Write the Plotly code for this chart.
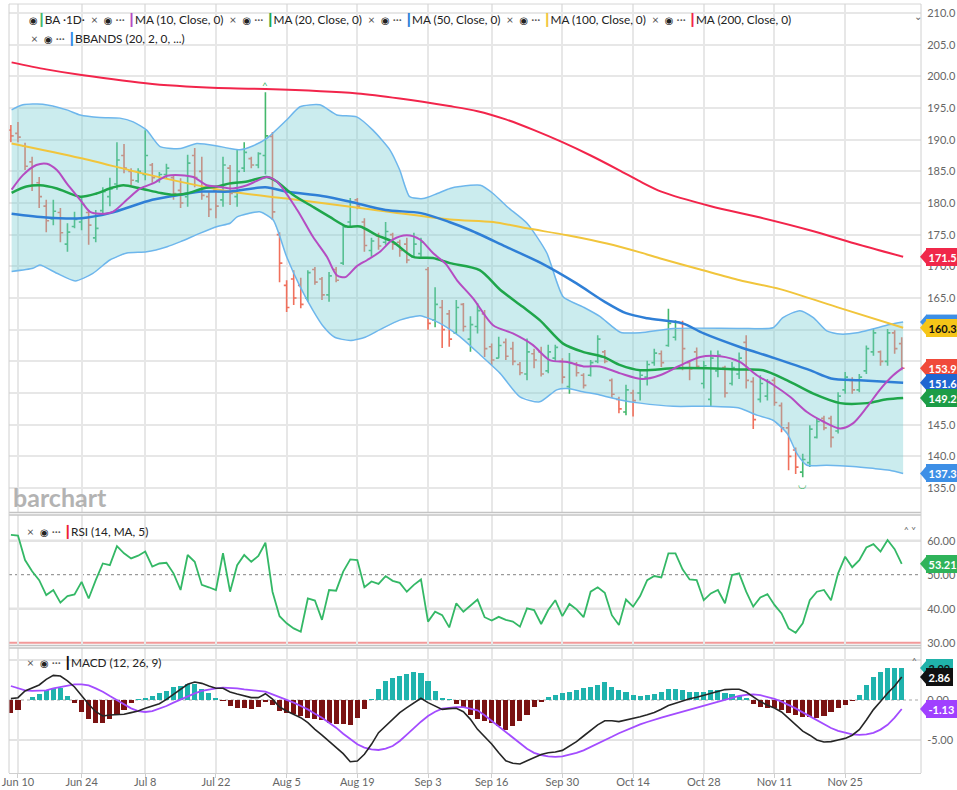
import plotly.graph_objects as go

# ---------------- data ----------------
tick_days = [1, 10, 19, 29, 39, 49, 59, 68, 78, 88, 98, 108, 118]
tick_labels = ["Jun 10", "Jun 24", "Jul 8", "Jul 22", "Aug 5", "Aug 19", "Sep 3",
               "Sep 16", "Sep 30", "Oct 14", "Oct 28", "Nov 11", "Nov 25"]
price_ticks = [135, 140, 145, 150, 155, 160, 165, 170, 175, 180, 185, 190, 195, 200, 205, 210]
price_ticks_hidden = [150, 155, 160]   # covered by value tags in the reference
rsi_ticks = [30, 40, 50, 60]
macd_ticks = [-5, 0, 5]
macd_ticks_hidden = [5]

open_ = [191.5, 191.0, 189.0, 186.5, 183.2, 179.5, 177.5, 178.5, 173.5, 176.3,
         177.0, 178.5, 174.5, 178.8, 181.0, 183.0, 187.5, 185.0, 183.5, 184.5,
         186.0, 183.6, 184.5, 184.0, 182.0, 181.0, 187.5, 185.0, 181.0, 182.0,
         180.5, 185.5, 181.0, 185.5, 187.0, 186.0, 187.5, 190.5, 175.0, 167.0,
         168.0, 167.0, 165.0, 169.5, 168.0, 165.5, 169.5, 170.5, 177.0, 180.5,
         177.0, 172.5, 174.8, 173.8, 175.0, 173.8, 173.5, 171.5, 172.0, 169.5,
         161.5, 163.5, 162.5, 159.5, 164.0, 158.5, 160.5, 162.5, 157.3, 155.5,
         158.0, 157.0, 154.5, 153.0, 156.2, 156.5, 153.5, 155.5, 155.0, 151.0,
         154.5, 152.8, 152.8, 155.0, 156.5, 152.0, 149.0, 147.0, 150.0, 150.0,
         152.5, 154.8, 156.2, 157.5, 158.8, 161.0, 154.8, 156.5, 151.5, 149.0,
         153.5, 154.0, 151.5, 153.0, 158.0, 151.8, 149.0, 149.5, 152.0, 148.0,
         144.5, 141.0, 137.5, 139.0, 143.0, 146.0, 146.0, 144.0, 150.5, 152.0,
         150.5, 153.5, 156.5, 156.5, 155.0, 159.5, 157.8]
high = [192.3, 192.8, 189.5, 187.3, 184.1, 180.5, 180.5, 179.2, 176.8, 178.6,
        181.0, 178.9, 178.9, 182.5, 184.0, 189.6, 189.3, 185.5, 185.5, 191.5,
        186.3, 184.9, 186.2, 184.4, 183.9, 187.6, 188.7, 187.3, 181.7, 182.4,
        187.3, 186.0, 188.4, 189.6, 187.3, 188.0, 197.5, 191.2, 175.4, 167.8,
        169.4, 168.2, 169.4, 169.9, 168.3, 169.1, 169.9, 176.5, 180.8, 180.8,
        177.6, 174.5, 175.3, 177.0, 175.3, 174.2, 174.5, 175.3, 174.5, 169.9,
        166.7, 164.7, 163.1, 164.7, 164.2, 162.1, 164.2, 163.1, 157.8, 158.9,
        158.6, 158.1, 154.9, 158.6, 157.0, 157.3, 157.6, 157.6, 155.5, 156.3,
        154.9, 153.1, 155.2, 159.1, 156.8, 152.3, 149.4, 151.3, 150.5, 153.6,
        155.1, 157.0, 156.7, 163.3, 161.5, 161.4, 154.9, 157.2, 155.1, 156.7,
        156.7, 154.3, 154.9, 156.4, 159.1, 152.5, 152.8, 152.2, 152.5, 148.5,
        145.4, 141.4, 140.4, 144.9, 145.9, 146.4, 146.4, 150.1, 153.3, 152.5,
        153.0, 157.5, 160.1, 156.7, 160.1, 159.9, 158.8]
low = [189.6, 189.6, 185.2, 181.9, 179.2, 175.4, 176.5, 173.8, 172.3, 176.0,
       175.7, 173.4, 173.8, 178.4, 179.5, 182.1, 184.7, 182.8, 183.2, 183.6,
       183.2, 183.2, 183.9, 180.5, 179.2, 179.4, 182.5, 180.5, 177.8, 177.6,
       179.4, 179.7, 179.4, 184.9, 185.5, 185.5, 184.5, 177.3, 167.5, 162.8,
       163.9, 163.4, 164.4, 167.1, 164.7, 164.4, 167.5, 170.2, 176.2, 179.0,
       172.3, 171.5, 172.6, 173.4, 172.6, 171.5, 170.5, 171.3, 171.5, 160.0,
       160.4, 157.1, 157.3, 159.3, 159.7, 156.5, 159.4, 155.7, 154.4, 155.5,
       155.2, 154.4, 152.8, 152.0, 153.9, 152.6, 153.1, 154.9, 151.5, 149.9,
       152.6, 150.7, 152.6, 154.7, 154.7, 149.2, 146.8, 146.5, 146.3, 148.8,
       151.2, 154.3, 154.1, 157.3, 158.3, 153.6, 152.0, 154.1, 150.7, 147.8,
       152.5, 149.3, 151.2, 152.2, 150.7, 144.3, 148.5, 148.8, 148.0, 143.8,
       137.8, 137.2, 136.7, 138.3, 142.8, 144.1, 141.4, 143.6, 149.9, 149.9,
       150.1, 153.0, 155.9, 154.3, 154.3, 156.2, 153.6]
close = [190.6, 190.4, 185.8, 182.8, 181.0, 177.2, 178.7, 175.3, 175.4, 177.4,
         179.8, 176.5, 176.0, 181.8, 182.2, 186.8, 185.5, 183.6, 185.0, 187.5,
         184.0, 184.5, 185.5, 181.5, 180.0, 186.3, 184.0, 181.2, 179.0, 179.5,
         186.0, 181.5, 185.0, 188.0, 186.0, 187.8, 190.6, 178.6, 170.5, 163.5,
         165.0, 164.0, 169.0, 167.5, 165.5, 168.5, 167.8, 176.2, 180.2, 179.5,
         173.3, 174.0, 173.2, 175.5, 173.5, 172.5, 171.0, 173.5, 173.8, 161.0,
         164.0, 160.0, 158.5, 163.5, 160.5, 160.8, 163.0, 157.0, 155.2, 157.5,
         155.8, 155.0, 153.2, 156.5, 155.2, 153.0, 156.5, 157.2, 152.5, 154.8,
         153.2, 151.2, 154.8, 158.5, 155.0, 149.8, 147.5, 150.5, 148.8, 152.8,
         154.5, 156.3, 154.8, 161.0, 161.2, 157.0, 153.8, 154.2, 154.3, 155.5,
         156.0, 150.0, 154.0, 155.5, 152.0, 145.8, 151.5, 151.8, 148.5, 144.5,
         140.0, 138.3, 139.5, 144.3, 145.5, 144.5, 143.0, 149.5, 152.5, 150.5,
         152.5, 157.0, 159.5, 155.0, 159.5, 157.0, 153.9]

# moving averages / bands: (trading-day, value) readings
ma10_day = [0.1, 1.7, 3.6, 5.1, 6.5, 7.9, 9.8, 11.2, 12.6, 14.4, 16.4, 18.3, 20.1, 22.1, 24, 25.8,
            27.7, 29.2, 31.4, 33.4, 34.8, 36.2, 37.6, 40.5, 42.7, 44.7, 46.1, 47.3, 48.9, 50.4,
            52.2, 54, 56, 57.9, 59.7, 61.5, 63.1, 65.4, 68.2, 71, 73.8, 76.2, 78.7, 81, 83.3,
            86.2, 89.3, 91.8, 94.6, 97.5, 100.3, 103.1, 105.5, 107.8, 110.2, 112.6, 114.9,
            117.3, 119.1, 121.1, 122.9, 124.8, 126.2]
ma10_val = [182.1, 184.4, 186.0, 186.2, 185.2, 183.1, 180.5, 178.6, 178.3, 178.6, 180.5, 182.3,
            183.1, 184.3, 184.4, 184.1, 182.8, 182.6, 182.3, 182.8, 183.5, 184.1, 183.4, 178.9,
            174.7, 171.5, 168.6, 168.3, 170.0, 171.0, 172.3, 174.2, 174.9, 174.2, 172.1, 170.4,
            167.8, 164.9, 160.7, 159.4, 157.6, 155.2, 154.9, 154.2, 154.2, 153.1, 152.2, 152.8,
            154.3, 155.7, 155.8, 154.9, 152.8, 151.3, 149.4, 147.0, 145.5, 144.4, 145.2, 147.8,
            150.5, 152.8, 154.0]
ma20_day = [0.1, 2.2, 4.1, 6.5, 9.8, 12.1, 14, 15.9, 18.3, 21.1, 23, 24.9, 27.2, 29.2, 31, 33.4,
            36.2, 37.6, 39.9, 42.7, 45.1, 47.5, 49.4, 51.8, 54, 56.9, 59.7, 62.1, 66.3, 69.2,
            72.4, 74.8, 78.1, 80.9, 83.8, 86.2, 89, 93.7, 98.5, 103.1, 106.4, 109.8, 113.5,
            117.3, 121.1, 123.9, 126.2]
ma20_val = [181.6, 182.6, 182.8, 182.3, 181.0, 181.5, 182.3, 182.8, 182.3, 181.6, 181.3, 181.5,
            182.3, 182.6, 183.1, 183.4, 184.1, 183.4, 181.3, 179.4, 177.8, 176.3, 176.3, 174.9,
            173.9, 171.5, 171.3, 170.5, 169.4, 166.3, 163.6, 161.5, 157.8, 156.5, 155.7, 154.4,
            153.6, 153.9, 153.9, 153.7, 153.6, 152.0, 149.9, 148.4, 148.4, 149.0, 149.2]
ma50_day = [0.1, 5, 10, 14, 20, 24, 27, 31, 36, 39, 44, 48, 53, 58, 62, 65, 70, 75, 80, 84, 87,
            90, 95, 98, 103, 108, 113, 116, 120, 126.2]
ma50_val = [178.3, 177.7, 177.6, 178.4, 180.5, 181.3, 181.8, 181.8, 182.5, 181.8, 181.1, 180.2,
            178.9, 178.4, 177.0, 175.7, 173.1, 170.5, 167.3, 164.4, 162.6, 161.8, 161.0, 159.4,
            157.3, 155.5, 153.6, 152.3, 152.0, 151.6]
ma100_day = [0.1, 9.8, 19.7, 31, 39, 49.4, 62.1, 68.2, 73, 78.7, 84.3, 89, 92, 97.5, 103.1,
             108.8, 117.3, 126.2]
ma100_val = [189.4, 187.1, 184.4, 181.8, 180.7, 179.2, 177.4, 177.0, 176.0, 174.9, 173.6, 172.2,
             171.2, 169.5, 167.8, 166.4, 163.4, 160.3]
ma200_day = [0.1, 5, 10, 20, 31, 36, 49, 55, 62, 66, 70, 74, 78, 82, 86, 89, 92, 99, 106, 113,
             120, 126.2]
ma200_val = [202.2, 201.1, 200.2, 198.8, 198.1, 198.0, 197.3, 196.5, 195.3, 194.5, 193.2, 191.5,
             189.6, 187.5, 185.2, 183.4, 181.8, 179.5, 177.7, 175.7, 173.4, 171.5]
bbu_day = [0.1, 1.7, 4.5, 7.9, 9.8, 12.6, 15.4, 17.3, 19.2, 21.1, 24, 26.3, 29.2, 31, 32.4, 34.2,
           36.2, 39, 40.9, 43.7, 46.1, 48.9, 51.2, 53.6, 55, 56.4, 58.3, 60.3, 62.1, 63.5, 66.4,
           68.2, 70.2, 73, 75.8, 78.1, 80.9, 83.3, 86.2, 89, 93.7, 103.1, 107.8, 109.2, 111.6,
           113.5, 115.4, 117.3, 119.7, 121.9, 124.3, 126.2]
bbu_val = [194.7, 195.5, 195.6, 194.7, 193.9, 193.5, 193.4, 192.8, 191.5, 188.9, 188.6, 189.4,
           189.0, 188.6, 188.4, 189.0, 190.2, 193.1, 195.2, 195.5, 193.9, 193.6, 191.5, 188.4,
           185.2, 181.0, 180.7, 181.5, 182.3, 182.6, 182.8, 181.5, 179.4, 176.8, 172.1, 165.2,
           163.6, 162.1, 159.6, 159.5, 160.2, 160.2, 160.3, 161.9, 163.0, 161.9, 159.8, 159.3,
           159.5, 160.1, 160.8, 161.2]
bbl_day = [0.1, 3.1, 4.1, 6.5, 9.1, 11.6, 14, 16.4, 19.2, 22.1, 24, 26.7, 29.2, 31, 32, 35.2,
           37.1, 39, 40.9, 42.7, 44.2, 45.8, 48, 50.1, 52.2, 55, 57.9, 60.7, 63.5, 66.4, 69.2,
           72, 74.8, 77.2, 78.7, 80.9, 83.3, 86.2, 89, 93.7, 98.5, 103.1, 105.5, 107.8, 109.8,
           111.2, 112.6, 115.4, 119.1, 121.9, 124.3, 126.2]
bbl_val = [169.2, 169.7, 170.2, 168.9, 167.7, 168.9, 171.0, 172.1, 172.3, 173.1, 173.9, 175.2,
           176.3, 176.8, 177.8, 178.6, 177.3, 171.5, 166.8, 163.1, 160.5, 158.8, 158.3, 158.8,
           160.0, 161.5, 162.2, 161.0, 158.9, 156.0, 153.1, 149.4, 148.6, 150.5, 150.7, 150.2,
           149.7, 148.9, 148.4, 147.9, 147.9, 147.6, 146.5, 145.7, 143.6, 140.4, 138.6, 138.6,
           138.4, 138.1, 137.8, 137.3]

rsi = [61.7, 61.5, 54.3, 51.0, 48.4, 44.0, 45.5, 41.8, 43.7, 44.2,
       47.9, 43.0, 48.4, 53.3, 52.8, 58.4, 56.3, 54.8, 55.6, 56.8,
       52.4, 53.3, 53.5, 50.4, 45.5, 55.8, 53.8, 47.0, 46.3, 45.5,
       56.3, 45.0, 52.8, 55.8, 53.8, 55.5, 59.4, 45.0, 37.8, 35.7,
       34.2, 33.2, 43.0, 42.4, 36.7, 45.5, 45.3, 50.9, 54.5, 54.3,
       46.3, 48.0, 47.3, 49.6, 48.2, 47.6, 45.0, 47.0, 48.6, 36.2,
       39.1, 38.1, 34.5, 41.6, 39.1, 41.0, 42.7, 37.5, 36.5, 37.6,
       36.7, 36.2, 34.7, 40.1, 39.6, 35.5, 39.6, 42.5, 37.8, 41.4,
       39.8, 37.5, 45.0, 46.3, 44.7, 38.1, 35.2, 42.7, 40.6, 43.7,
       48.4, 49.6, 49.2, 56.3, 56.3, 51.6, 48.6, 48.4, 42.5, 44.5,
       45.5, 41.6, 49.9, 50.4, 45.0, 40.6, 43.3, 44.3, 41.1, 38.6,
       34.2, 32.9, 35.7, 42.5, 45.0, 45.5, 42.5, 50.4, 55.3, 52.2,
       54.3, 58.0, 59.0, 56.8, 60.2, 57.5, 53.21]

macd = [0.17, 0.29, 1.13, 1.46, 1.88, 2.58, 3.08, 3.0, 2.38, 1.63,
        0.5, -0.54, -1.46, -2.0, -1.88, -1.79, -1.79, -1.58, -1.38, -1.04,
        -0.75, -0.46, 0.08, 0.71, 1.33, 1.96, 2.25, 2.08, 1.75, 1.46,
        1.46, 1.0, 0.75, 0.5, 0.3, 0.3, 0.79, 0.1, -0.88, -1.38,
        -1.79, -2.21, -2.83, -3.67, -4.38, -5.13, -5.96, -6.71, -7.71, -7.63,
        -6.79, -5.54, -4.08, -3.25, -2.42, -1.58, -0.96, -0.33, 0.21, -0.33,
        -0.75, -1.17, -1.08, -1.04, -1.46, -2.42, -3.67, -4.6, -5.5, -6.6,
        -7.6, -7.9, -8.0, -7.6, -7.2, -6.8, -6.6, -6.5, -6.3, -5.8,
        -5.2, -4.5, -3.8, -3.1, -2.6, -2.6, -2.7, -2.5, -2.35, -2.1,
        -1.85, -1.55, -1.15, -0.7, -0.4, -0.1, 0.15, 0.35, 0.6, 0.85,
        1.1, 1.3, 1.35, 1.35, 1.0, 0.4, -0.2, -0.65, -1.0, -1.5,
        -2.3, -3.2, -3.9, -4.4, -5.0, -5.25, -5.2, -5.0, -4.8, -4.4,
        -3.7, -2.5, -1.2, -0.2, 0.85, 1.75, 2.86]
signal = [1.75, 1.46, 1.21, 1.13, 1.13, 1.21, 1.46, 1.63, 1.88, 1.96,
          1.96, 1.83, 1.46, 1.04, 0.5, -0.04, -0.54, -1.04, -1.38, -1.5,
          -1.38, -1.08, -0.75, -0.33, 0.08, 0.5, 0.83, 1.13, 1.33, 1.46,
          1.55, 1.54, 1.46, 1.33, 1.21, 1.13, 1.04, 0.71, 0.38, 0.08,
          -0.33, -0.75, -1.17, -1.71, -2.21, -2.83, -3.46, -4.21, -4.92, -5.54,
          -5.96, -6.17, -6.25, -6.08, -5.75, -5.13, -4.33, -3.46, -2.71, -2.0,
          -1.46, -1.08, -0.96, -0.88, -0.88, -1.04, -1.29, -1.9, -2.6, -3.3,
          -4.0, -4.8, -5.5, -6.1, -6.6, -6.9, -7.05, -7.1, -7.05, -6.85,
          -6.6, -6.3, -5.9, -5.45, -5.05, -4.6, -4.15, -3.75, -3.4, -3.05,
          -2.75, -2.45, -2.2, -1.95, -1.7, -1.45, -1.2, -0.95, -0.7, -0.45,
          -0.2, 0.05, 0.3, 0.5, 0.65, 0.7, 0.6, 0.4, 0.15, -0.2,
          -0.6, -1.05, -1.55, -2.05, -2.6, -3.1, -3.5, -3.85, -4.1, -4.3,
          -4.35, -4.3, -4.1, -3.7, -3.1, -2.2, -1.13]
hist = [-1.58, -1.29, 0.0, 0.38, 0.71, 1.21, 1.54, 1.54, 0.5, -0.33,
        -1.46, -2.42, -2.83, -2.83, -2.42, -1.79, -1.29, -0.33, 0.05, 0.29,
        0.5, 0.92, 1.13, 1.63, 1.75, 1.96, 2.04, 1.33, 0.92, 0.17,
        -0.1, -0.75, -0.96, -1.04, -1.08, -0.88, -0.25, -0.63, -1.38, -1.58,
        -1.79, -2.0, -2.29, -2.42, -2.54, -2.83, -2.96, -3.04, -3.13, -2.21,
        -1.17, 0.08, 1.33, 2.38, 2.79, 3.0, 3.29, 3.54, 3.42, 2.38,
        1.13, 0.21, 0.08, -0.46, -0.96, -1.92, -2.42, -2.6, -2.9, -3.3,
        -3.75, -3.2, -2.6, -1.9, -0.9, -0.3, 0.42, 0.63, 0.83, 1.04,
        1.25, 1.46, 1.67, 1.88, 2.29, 1.67, 1.25, 1.04, 0.63, 0.54,
        0.63, 0.71, 1.04, 1.38, 1.38, 1.25, 1.04, 1.04, 1.04, 1.2,
        1.3, 0.83, 0.71, 0.5, 0.21, -0.54, -0.83, -1.04, -1.04, -1.25,
        -1.67, -1.88, -2.08, -2.08, -2.21, -1.96, -1.46, -1.04, -0.63, -0.1,
        0.63, 1.88, 2.92, 3.46, 4.04, 4.04, 3.99]

# ---------------- layout helpers (pixels -> paper) ----------------
W, H = 957, 790
ML, MR, MT, MB = 9, 36, 4, 17
PW, PH = W - ML - MR, H - MT - MB
BOTTOM = H - MB


def fx(px):
    return (px - ML) / PW


def fy(py):
    return (BOTTOM - py) / PH


DOM_MAIN, RNG_MAIN = [fy(512), 1.0], [131.21, 211.42]
DOM_RSI, RNG_RSI = [fy(645), fy(515)], [29.32, 67.56]
DOM_MACD, RNG_MACD = [0.0, fy(648)], [-9.125, 6.5]

days = list(range(len(close)))
FONT = "Lato, 'Open Sans', 'DejaVu Sans', sans-serif"
GRID = "#e7e7e7"

C_UP, C_DN = "#44b86c", "#f0705c"
C_MA10, C_MA20, C_MA50, C_MA100, C_MA200 = "#b54cc2", "#1fa64b", "#2f7fd6", "#f1c53c", "#f2254b"
C_BB = "#6db6ec"

fig = go.Figure()

# Bollinger band fill
fig.add_trace(go.Scatter(x=bbu_day + bbl_day[::-1], y=bbu_val + bbl_val[::-1],
                         fill="toself", fillcolor="rgba(118,206,210,0.38)",
                         line=dict(width=0), mode="lines", hoverinfo="skip",
                         xaxis="x2", yaxis="y"))
for d, v in ((bbu_day, bbu_val), (bbl_day, bbl_val)):
    fig.add_trace(go.Scatter(x=d, y=v, mode="lines", line=dict(color=C_BB, width=1.5, shape="spline", smoothing=0.6),
                             xaxis="x2", yaxis="y"))
for d, v, c, w in ((ma200_day, ma200_val, C_MA200, 2),
                   (ma100_day, ma100_val, C_MA100, 2),
                   (ma50_day, ma50_val, C_MA50, 2.5),
                   (ma20_day, ma20_val, C_MA20, 2.5),
                   (ma10_day, ma10_val, C_MA10, 2)):
    fig.add_trace(go.Scatter(x=d, y=v, mode="lines", line=dict(color=c, width=w, shape="spline", smoothing=0.8),
                             xaxis="x2", yaxis="y"))

fig.add_trace(go.Ohlc(x=days, open=open_, high=high, low=low, close=close,
                      increasing=dict(line=dict(color=C_UP, width=1.6)),
                      decreasing=dict(line=dict(color=C_DN, width=1.6)),
                      tickwidth=0.4, xaxis="x2", yaxis="y"))

# RSI
fig.add_trace(go.Scatter(x=days, y=rsi, mode="lines", line=dict(color="#34b866", width=1.8),
                         xaxis="x3", yaxis="y2"))

# MACD
fig.add_trace(go.Bar(x=days, y=hist, width=0.72,
                     marker=dict(color=["#1fb3ad" if v >= 0 else "#7a1212" for v in hist], line=dict(width=0)),
                     xaxis="x", yaxis="y3"))
fig.add_trace(go.Scatter(x=days, y=signal, mode="lines", line=dict(color="#a34cff", width=1.8),
                         xaxis="x", yaxis="y3"))
fig.add_trace(go.Scatter(x=days, y=macd, mode="lines", line=dict(color="#262626", width=1.6),
                         xaxis="x", yaxis="y3"))

xr = [(ML - 10.9) / 7.07, (W - MR - 10.9) / 7.07]
xcommon = dict(range=xr, tickvals=tick_days, ticktext=tick_labels, showgrid=True, gridcolor=GRID,
               gridwidth=1.5, zeroline=False, rangeslider=dict(visible=False), fixedrange=True,
               automargin=False)
ycommon = dict(side="right", showgrid=False, zeroline=False, ticks="outside", ticklen=3,
               tickcolor="rgba(0,0,0,0)", tickfont=dict(size=11, color="#666", family=FONT),
               fixedrange=True, automargin=False)

fig.update_layout(
    width=W, height=H, margin=dict(l=ML, r=MR, t=MT, b=MB, autoexpand=False),
    paper_bgcolor="white", plot_bgcolor="white", showlegend=False,
    font=dict(family=FONT, color="#333"), bargap=0,
    xaxis=dict(**xcommon, anchor="y3", domain=[0, 1], showticklabels=True, ticks="outside", ticklen=4,
               tickcolor="#cfcfcf", showline=True, linecolor="#cfcfcf", ticklabelstandoff=-5,
               tickfont=dict(size=11, color="#666", family=FONT)),
    xaxis2=dict(**xcommon, anchor="y", matches="x", showticklabels=False),
    xaxis3=dict(**xcommon, anchor="y2", matches="x", showticklabels=False),
    yaxis=dict(**ycommon, domain=DOM_MAIN, range=RNG_MAIN, tickvals=price_ticks,
               ticktext=["" if v in price_ticks_hidden else f"{v:.1f}" for v in price_ticks], anchor="x2"),
    yaxis2=dict(**ycommon, domain=DOM_RSI, range=RNG_RSI, tickvals=rsi_ticks,
                ticktext=[f"{v:.2f}" for v in rsi_ticks], anchor="x3"),
    yaxis3=dict(**ycommon, domain=DOM_MACD, range=RNG_MACD, tickvals=macd_ticks,
                ticktext=["" if v in macd_ticks_hidden else f"{v:.2f}" for v in macd_ticks], anchor="x"),
)
# main price gridlines
fig.update_layout(yaxis_showgrid=True, yaxis_gridcolor=GRID, yaxis_gridwidth=1.5)

shapes = []
# RSI guide lines
for v, col, w, dash in ((60, "#e3e3e3", 2.5, "solid"), (40, "#e3e3e3", 2.5, "solid"),
                        (50, "#9a9a9a", 1.2, "dot"), (30, "#f29a9a", 2, "solid")):
    shapes.append(dict(type="line", xref="x3 domain", yref="y2", x0=0, x1=1, y0=v, y1=v,
                       line=dict(color=col, width=w, dash=dash), layer="below"))
for v, col, w, dash in ((5, "#e3e3e3", 2, "solid"), (-5, "#e3e3e3", 2, "solid"),
                        (0, "#a8a8a8", 1.2, "dot")):
    shapes.append(dict(type="line", xref="x domain", yref="y3", x0=0, x1=1, y0=v, y1=v,
                       line=dict(color=col, width=w, dash=dash), layer="below"))
# panel separators and borders
for py in (512.5, 515, 645.5, 648):
    shapes.append(dict(type="line", xref="paper", yref="paper", x0=0, x1=1, y0=fy(py), y1=fy(py),
                       line=dict(color="#c4c4c4", width=1.6)))
shapes.append(dict(type="line", xref="paper", yref="paper", x0=0, x1=1, y0=1, y1=1,
                   line=dict(color="#d6d6d6", width=1)))
for px in (ML, W - MR):
    shapes.append(dict(type="line", xref="paper", yref="paper", x0=fx(px), x1=fx(px), y0=0, y1=1,
                       line=dict(color="#d0d0d0", width=1)))

ann = []


def bar(c):
    return f'<span style="color:{c}"><b>┃</b></span>'


eye = '<span style="font-size:10px">◉</span>'
grey = lambda s: f'<span style="color:#555">{s}</span>'
sp = "\u00a0"
sep = f"{sp}{sp}{grey('×')}{sp}{sp}{eye}{sp}{grey('···')}{sp}"
row1 = (f"{eye}{bar(C_UP)}BA ·1D·" + sep + bar(C_MA10) + "MA (10, Close, 0)" + sep + bar(C_MA20) +
        "MA (20, Close, 0)" + sep + bar(C_MA50) + "MA (50, Close, 0)" + sep + bar(C_MA100) +
        "MA (100, Close, 0)" + sep + bar(C_MA200) + "MA (200, Close, 0)")
row2 = f"{grey('×')}{sp}{sp}{eye}{sp}{grey('···')}{sp}{bar('#2f8ae8')}BBANDS (20, 2, 0, ...)"
row_rsi = f"{grey('×')}{sp}{sp}{eye}{sp}{grey('···')}{sp}{bar('#ee2233')}RSI (14, MA, 5)"
row_macd = f"{grey('×')}{sp}{sp}{eye}{sp}{grey('···')}{sp}{bar('#111')}MACD (12, 26, 9)"
for txt, px, py in ((row1, 27, 19), (row2, 29, 38), (row_rsi, 25, 531), (row_macd, 25, 662)):
    ann.append(dict(text=txt, xref="paper", yref="paper", x=fx(px), y=fy(py), xanchor="left",
                    yanchor="middle", showarrow=False, font=dict(size=11.8, color="#222", family=FONT)))
for txt, px, py in (("⌄", 918, 16), ("˄ ˅", 910, 530), ("˄", 914, 661)):
    ann.append(dict(text=txt, xref="paper", yref="paper", x=fx(px), y=fy(py), xanchor="center",
                    yanchor="middle", showarrow=False, font=dict(size=10, color="#666")))
ann.append(dict(text="<b>barchart</b>", xref="paper", yref="paper", x=fx(11), y=fy(497), xanchor="left",
                yanchor="middle", showarrow=False, font=dict(size=25, color="#b3b3b3", family=FONT)))
# high / low markers
ann.append(dict(text="^", x=days[high.index(max(high))], y=max(high), xref="x2", yref="y", yshift=7,
                showarrow=False, font=dict(size=10, color=C_UP)))
ann.append(dict(text="◡", x=days[low.index(min(low))], y=min(low), xref="x2", yref="y", yshift=-7,
                showarrow=False, font=dict(size=10, color=C_UP)))


def to_paper(v, dom, rng):
    return dom[0] + (v - rng[0]) / (rng[1] - rng[0]) * (dom[1] - dom[0])


def tag(v, yref, dom, rng, bg, fg, fmt, covered=False):
    # value label box on the right axis with a left-pointing arrow
    yp = to_paper(v, dom, rng)
    hh = 7.5 / PH
    shapes.append(dict(type="path", xref="paper", yref="paper", fillcolor=bg, line=dict(width=0),
                       path=f"M {fx(920)},{yp} L {fx(926.5)},{yp + hh} L {fx(926.5)},{yp - hh} Z"))
    if covered:
        # label fully hidden behind another tag in the reference: only its box edge shows
        shapes.append(dict(type="rect", xref="paper", yref="paper", x0=fx(926), x1=fx(957),
                           y0=yp - hh, y1=yp + hh, fillcolor=bg, line=dict(width=0)))
        return
    ann.append(dict(text=f"<b>{v:{fmt}}</b>", xref="paper", yref=yref, x=1, y=v, xanchor="left",
                    yanchor="middle", xshift=5, showarrow=False, bgcolor=bg, bordercolor=bg, borderpad=1.5,
                    font=dict(size=11, color=fg, family=FONT)))


tag(ma200_val[-1], "y", DOM_MAIN, RNG_MAIN, "#f0284a", "white", ".1f")
tag(bbu_val[-1], "y", DOM_MAIN, RNG_MAIN, "#3d8fe6", "white", ".1f", covered=True)
for v, bg, fg in ((ma100_val[-1], "#f5c518", "#111"), (close[-1], "#f04a3a", "white"),
                  (ma50_val[-1], "#1f66d1", "white"), (ma20_val[-1], "#1c9c46", "white"),
                  (bbl_val[-1], "#3d8fe6", "white")):
    tag(v, "y", DOM_MAIN, RNG_MAIN, bg, fg, ".1f")
tag(rsi[-1], "y2", DOM_RSI, RNG_RSI, "#2fb35a", "white", ".2f")
for v, bg, fg in ((hist[-1], "#20b2aa", "#111"), (macd[-1], "#111", "white"), (signal[-1], "#a040ff", "white")):
    tag(v, "y3", DOM_MACD, RNG_MACD, bg, fg, ".2f")

fig.update_layout(shapes=shapes, annotations=ann)

fig.write_html("out.html", config={"displayModeBar": False},
               post_script="document.body.style.margin='0px';document.body.style.overflow='hidden';")
